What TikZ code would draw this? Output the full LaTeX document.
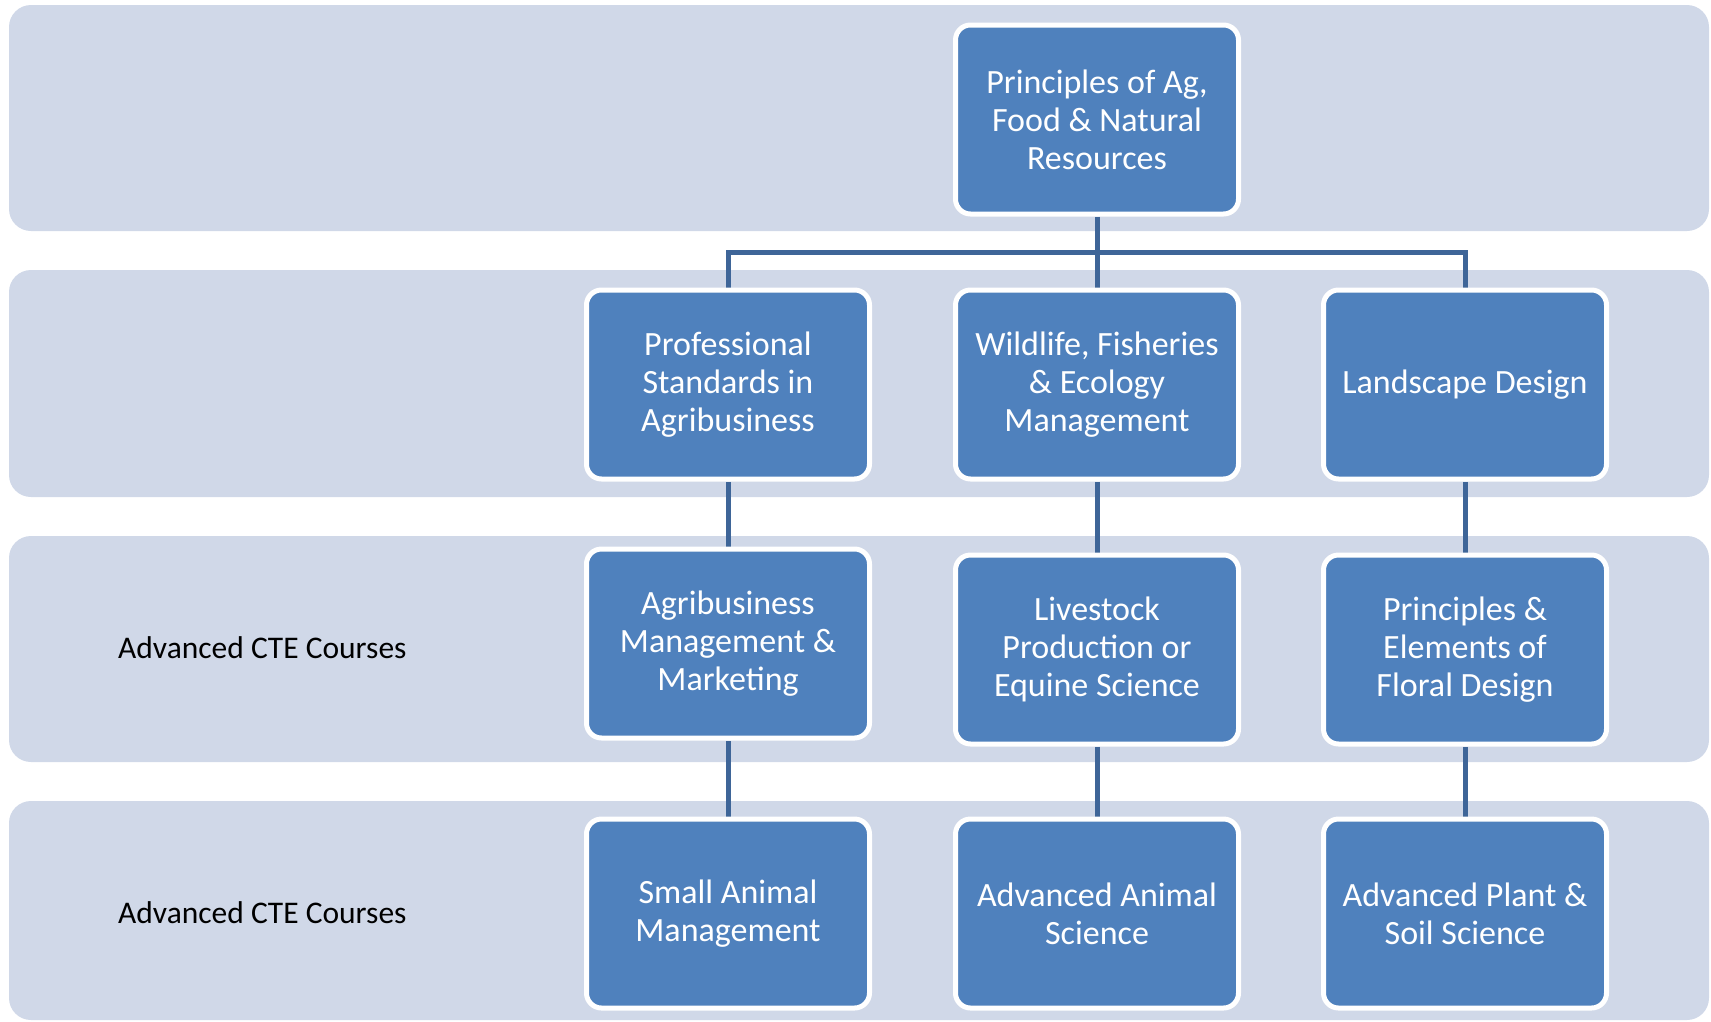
\documentclass[tikz,border=0pt]{standalone}
\usepackage{fontspec}
\setmainfont{Carlito}
\definecolor{bandfill}{HTML}{D0D8E8}
\definecolor{boxfill}{HTML}{4F81BD}
\definecolor{linecol}{HTML}{3E6598}
\pgfdeclarelayer{bands}
\pgfdeclarelayer{lines}
\pgfsetlayers{bands,lines,main}
\begin{document}
\begin{tikzpicture}[x=1pt,y=-1pt,
  course/.style={rectangle, rounded corners=15pt, fill=boxfill, draw=white, line width=5pt,
    minimum width=283pt, minimum height=189pt, inner sep=0pt, align=center, text=white,
    font=\fontsize{34}{38}\selectfont},
  band/.style={fill=bandfill, rounded corners=22pt},
  link/.style={draw=linecol, line width=5pt},
  rowlabel/.style={anchor=west, inner sep=0pt, font=\fontsize{31.5}{36}\selectfont, text=black}]
\useasboundingbox (0,0) rectangle (1711,1021);
\begin{pgfonlayer}{bands}
  \path[band] (9,5) rectangle (1709,231);
  \path[band] (9,270) rectangle (1709,497);
  \path[band] (9,536) rectangle (1709,762);
  \path[band] (9,801) rectangle (1709,1020);
\end{pgfonlayer}

\node[course] (top) at (1097,119.5) {Principles of Ag,\\Food \& Natural\\Resources};

\node[course] (pa) at (728,384.5) {Professional\\Standards in\\Agribusiness};
\node[course] (pb) at (1097,384.5) {Wildlife, Fisheries\\\& Ecology\\Management};
\node[course] (pc) at (1465,384.5) {Landscape Design};

\node[course] (qa) at (728,643.5) {Agribusiness\\Management \&\\Marketing};
\node[course] (qb) at (1097,649.5) {Livestock\\Production or\\Equine Science};
\node[course] (qc) at (1465,649.5) {Principles \&\\Elements of\\Floral Design};

\node[course] (ra) at (728,913.5) {Small Animal\\Management};
\node[course] (rb) at (1097,913.5) {Advanced Animal\\Science};
\node[course] (rc) at (1465,913.5) {Advanced Plant \&\\Soil Science};

\node[rowlabel] (lab3) at (118,648) {Advanced CTE Courses};
\node[rowlabel] (lab4) at (118,913) {Advanced CTE Courses};

\coordinate (bus) at (0,252);
\begin{pgfonlayer}{lines}
  \draw[link] (top.south) -- (pb.north);
  \draw[link] (pa.north) -- (pa.north |- bus) -- (pc.north |- bus) -- (pc.north);
  \draw[link] (pa.south) -- (qa.north);
  \draw[link] (pb.south) -- (qb.north);
  \draw[link] (pc.south) -- (qc.north);
  \draw[link] (qa.south) -- (ra.north);
  \draw[link] (qb.south) -- (rb.north);
  \draw[link] (qc.south) -- (rc.north);
\end{pgfonlayer}
\end{tikzpicture}
\end{document}
